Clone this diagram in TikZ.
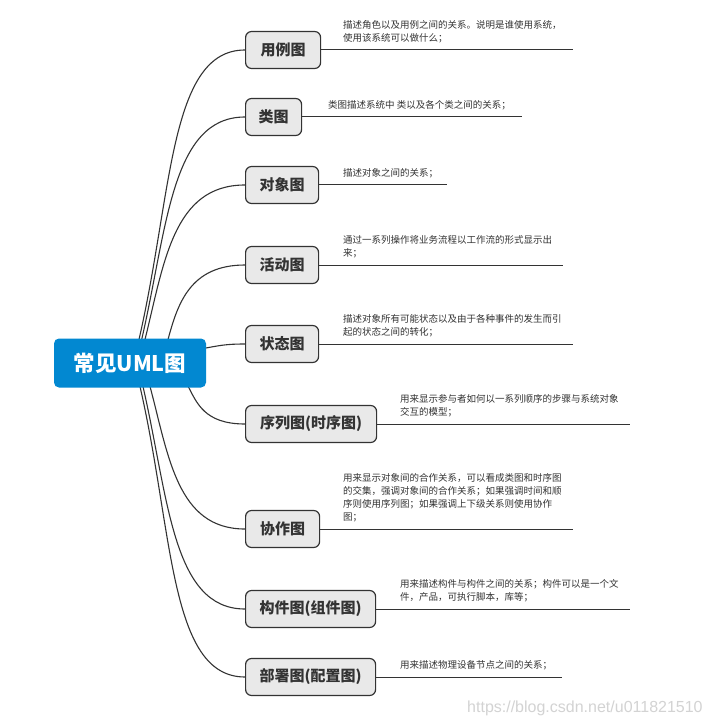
\documentclass[tikz,border=0pt]{standalone}
\usepackage{fontspec}
\setmainfont{Noto Sans CJK SC}
\newfontfamily\wmfont{Liberation Sans}
\usetikzlibrary{calc}
\definecolor{rootblue}{HTML}{0288D1}
\definecolor{ink}{HTML}{333333}
\definecolor{boxfill}{HTML}{E9E9E9}
\definecolor{wmgray}{HTML}{D3D3D3}
\pgfdeclarelayer{bg}
\pgfsetlayers{bg,main}
\begin{document}
\begin{tikzpicture}[x=1pt,y=-1pt,
  rootbox/.style={fill=rootblue, rounded corners=5pt, minimum width=152pt, minimum height=49pt, inner sep=0pt, text=white, font=\fontsize{21.5}{24}\selectfont\bfseries},
  topic/.style={draw=ink, line width=1.2pt, fill=boxfill, rounded corners=6pt, minimum height=37pt, inner sep=0pt, anchor=west, text=ink, font=\fontsize{15}{18}\selectfont\bfseries},
  note/.style={anchor=south west, inner sep=0pt, align=left, text=ink, font=\fontsize{9.5}{12.8}\selectfont},
  branch/.style={draw=ink, line width=1.1pt},
  underline/.style={draw=ink, line width=1pt},
]
\useasboundingbox (0,0) rectangle (711,719);

% root and topics
\node[rootbox] (root) at (130,363) {常见UML图};
\node[topic, minimum width=75pt] (t1) at (245,50) {用例图};
\node[topic, minimum width=56pt] (t2) at (245,117) {类图};
\node[topic, minimum width=73pt] (t3) at (245,185) {对象图};
\node[topic, minimum width=73pt] (t4) at (245,265) {活动图};
\node[topic, minimum width=73pt] (t5) at (245,344) {状态图};
\node[topic, minimum width=131pt] (t6) at (245,424) {序列图(时序图)};
\node[topic, minimum width=74pt] (t7) at (245,529) {协作图};
\node[topic, minimum width=130pt] (t8) at (245,609) {构件图(组件图)};
\node[topic, minimum width=130pt] (t9) at (245,677) {部署图(配置图)};

% branch start points (inside the root box)
\coordinate (s1) at ($(root.north west)+(85,2)$);
\coordinate (s2) at ($(root.north west)+(87.7,2)$);
\coordinate (s3) at ($(root.north west)+(91,2)$);
\coordinate (s4) at ($(root.north west)+(114,2)$);
\coordinate (s5) at ($(root.north east)+(-2,10)$);
\coordinate (s6) at ($(root.south west)+(134,-2)$);
\coordinate (s7) at ($(root.south west)+(96,-2)$);
\coordinate (s8) at ($(root.south west)+(89,-2)$);
\coordinate (s9) at ($(root.south west)+(86,-2)$);

\begin{pgfonlayer}{bg}
  \fill[white] (0,0) rectangle (711,719);
  \draw[branch] (s1) .. controls +(77:150pt) and +(-76,0) .. (t1.west);
  \draw[branch] (s2) .. controls +(77:115pt) and +(-74,0) .. (t2.west);
  \draw[branch] (s3) .. controls +(76:80pt) and +(-72,0) .. (t3.west);
  \draw[branch] (s4) .. controls +(75:38pt) and +(-55,0) .. (t4.west);
  \draw[branch] (s5) .. controls +(10:15pt) and +(-20,0) .. (t5.west);
  \draw[branch] (s6) .. controls +(-62:19pt) and +(-41,0) .. (t6.west);
  \draw[branch] (s7) .. controls +(-75:73pt) and +(-68,0) .. (t7.west);
  \draw[branch] (s8) .. controls +(-77:115pt) and +(-73,0) .. (t8.west);
  \draw[branch] (s9) .. controls +(-77:150pt) and +(-76,0) .. (t9.west);
\end{pgfonlayer}

% underlines
\coordinate (e1) at (573,50);
\coordinate (e2) at (522,117);
\coordinate (e3) at (447,185);
\coordinate (e4) at (563,265);
\coordinate (e5) at (573,344);
\coordinate (e6) at (630,424);
\coordinate (e7) at (573,529);
\coordinate (e8) at (630,609);
\coordinate (e9) at (562,677);
\foreach \i in {1,...,9} { \draw[underline] (t\i.east) -- (e\i); }

% notes
\node[note] (d1) at (343,43) {描述角色以及用例之间的关系。说明是谁使用系统，\\使用该系统可以做什么；};
\node[note] (d2) at (328,110) {类图描述系统中 类以及各个类之间的关系；};
\node[note] (d3) at (343,178) {描述对象之间的关系；};
\node[note] (d4) at (343,258) {通过一系列操作将业务流程以工作流的形式显示出\\来；};
\node[note] (d5) at (343,337) {描述对象所有可能状态以及由于各种事件的发生而引\\起的状态之间的转化；};
\node[note] (d6) at (400,417) {用来显示参与者如何以一系列顺序的步骤与系统对象\\交互的模型；};
\node[note] (d7) at (343,522) {用来显示对象间的合作关系，可以看成类图和时序图\\的交集，强调对象间的合作关系；如果强调时间和顺\\序则使用序列图；如果强调上下级关系则使用协作\\图；};
\node[note] (d8) at (400,602) {用来描述构件与构件之间的关系；构件可以是一个文\\件，产品，可执行脚本，库等；};
\node[note] (d9) at (400,670) {用来描述物理设备节点之间的关系；};

% watermark
\node[anchor=base west, inner sep=0pt, text=wmgray, font=\wmfont\fontsize{16}{18}\selectfont] (wm) at (467,712) {https://blog.csdn.net/u011821510};
\end{tikzpicture}
\end{document}
